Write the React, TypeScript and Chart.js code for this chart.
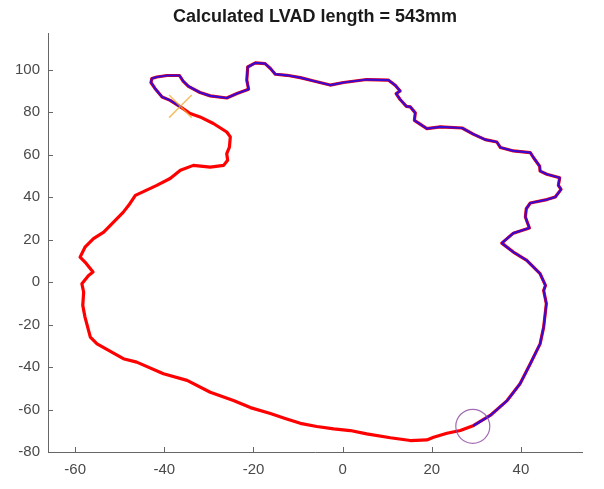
import { useEffect, useRef } from "react";
import { Chart, registerables } from "chart.js";

Chart.register(...registerables);

const titleText = "Calculated LVAD length = 543mm";
const xTickValues = [-60, -40, -20, 0, 20, 40];
const yTickValues = [-80, -60, -40, -20, 0, 20, 40, 60, 80, 100];

// LVAD path (blue), from start marker to end marker
const lvadX = [-36.4, -38.7, -40.5, -42.1, -43.0, -42.8, -41.7, -39.4, -36.6, -35.8, -34.6, -32.0, -29.7, -26.0, -23.7, -21.1, -21.5, -21.3, -19.6, -17.4, -16.2, -15.1, -12.5, -9.5, -6.5, -2.8, 0.2, 5.4, 10.3, 11.8, 12.9, 12.0, 12.9, 14.3, 15.2, 16.3, 16.1, 18.9, 21.9, 26.8, 29.4, 32.0, 34.6, 35.4, 38.3, 42.1, 42.8, 44.2, 44.3, 45.8, 48.7, 48.4, 49.0, 47.7, 45.8, 42.1, 41.2, 41.0, 41.9, 38.3, 35.7, 38.3, 41.3, 44.3, 45.5, 45.1, 45.7, 45.1, 44.3, 42.1, 39.8, 36.9, 33.1, 29.4];
const lvadY = [82.4, 85.5, 87.1, 91.1, 93.9, 95.8, 96.5, 97.2, 97.2, 94.6, 92.1, 89.2, 87.6, 86.6, 88.7, 90.7, 95.0, 101.2, 103.1, 102.8, 100.5, 97.8, 97.3, 96.2, 94.6, 92.7, 93.9, 95.3, 95.0, 92.6, 89.9, 88.7, 85.9, 82.7, 82.4, 79.6, 76.1, 72.2, 73.0, 72.5, 69.5, 67.0, 65.9, 63.3, 61.7, 60.9, 58.6, 54.5, 52.2, 50.7, 49.1, 45.5, 43.6, 40.0, 38.8, 37.2, 34.5, 30.6, 25.4, 23.0, 18.3, 14.1, 10.2, 3.9, -1.6, -4.0, -10.2, -21.2, -29.1, -38.5, -47.9, -55.8, -62.8, -67.5];

// Remaining wall contour (red only), closing the loop back to the start
const wallX = [26.4, 23.4, 20.4, 18.9, 15.2, 10.7, 5.4, 1.7, -2.0, -5.8, -9.5, -12.9, -16.2, -20.7, -24.5, -29.7, -34.9, -40.2, -46.2, -49.2, -55.1, -56.6, -57.8, -58.3, -58.1, -58.5, -57.0, -56.0, -57.8, -58.9, -57.8, -55.9, -53.6, -51.4, -49.2, -48.0, -46.5, -41.7, -38.7, -36.4, -33.5, -29.7, -26.7, -25.8, -26.0, -25.4, -25.2, -26.0, -29.0, -32.0, -34.2, -36.4];
const wallY = [-69.9, -71.2, -73.1, -74.3, -74.6, -73.3, -71.5, -69.9, -69.1, -68.0, -66.5, -64.2, -61.9, -59.1, -55.8, -51.9, -46.3, -43.2, -37.7, -36.1, -29.1, -25.9, -16.5, -11.0, -4.8, -0.8, 3.1, 4.7, 9.4, 11.7, 16.4, 20.4, 23.5, 28.2, 32.9, 36.1, 40.8, 45.5, 48.7, 52.6, 54.9, 54.1, 54.9, 57.3, 60.4, 63.5, 68.3, 70.6, 74.6, 77.7, 79.3, 82.4];

const startX = [-36.4];
const startY = [82.7];
const endX = [29.2];
const endY = [-67.9];

const toPts = (xs: number[], ys: number[]) => xs.map((x, i) => ({ x, y: ys[i] }));

const FONT = "'Liberation Sans', Arial, Helvetica, sans-serif";

const decorPlugin = {
  id: "decor",
  afterDraw(chart: any) {
    const ctx = chart.ctx;
    const area = chart.chartArea;
    const xs = chart.scales.x;
    const ys = chart.scales.y;
    ctx.save();
    ctx.strokeStyle = "#666666";
    ctx.lineWidth = 1;
    ctx.beginPath();
    xTickValues.forEach((v) => {
      const px = Math.round(xs.getPixelForValue(v)) + 0.5;
      ctx.moveTo(px, area.bottom);
      ctx.lineTo(px, area.bottom - 5);
    });
    yTickValues.forEach((v) => {
      const py = Math.round(ys.getPixelForValue(v)) + 0.5;
      ctx.moveTo(area.left, py);
      ctx.lineTo(area.left + 5, py);
    });
    ctx.stroke();
    ctx.fillStyle = "#1a1a1a";
    ctx.font = "bold 18px " + FONT;
    ctx.textAlign = "center";
    ctx.textBaseline = "middle";
    ctx.fillText(titleText, (area.left + area.right) / 2, 17);
    ctx.restore();
  },
};

export default function App() {
  const ref = useRef<HTMLCanvasElement | null>(null);
  useEffect(() => {
    if (!ref.current) return;
    const chart = new Chart(ref.current, {
      type: "scatter",
      data: {
        datasets: [
          {
            label: "start",
            data: toPts(startX, startY),
            pointStyle: "crossRot",
            pointRadius: 16,
            borderColor: "rgba(240,170,50,0.75)",
            borderWidth: 1.5,
            showLine: false,
            order: 0,
          },
          {
            label: "end",
            data: toPts(endX, endY),
            pointStyle: "circle",
            pointRadius: 17,
            borderColor: "rgba(140,70,160,0.8)",
            backgroundColor: "rgba(0,0,0,0)",
            borderWidth: 1.2,
            showLine: false,
            order: 1,
          },
          {
            label: "lvad",
            data: toPts(lvadX, lvadY),
            showLine: true,
            borderColor: "#3a0ad0",
            borderWidth: 2.2,
            pointRadius: 0,
            tension: 0,
            borderJoinStyle: "round",
            borderCapStyle: "round",
            order: 2,
          },
          {
            label: "wall",
            data: toPts(lvadX.concat(wallX), lvadY.concat(wallY)),
            showLine: true,
            borderColor: "#ff0000",
            borderWidth: 3.2,
            pointRadius: 0,
            tension: 0,
            borderJoinStyle: "round",
            borderCapStyle: "round",
            order: 3,
          },
        ],
      },
      options: {
        animation: false,
        responsive: false,
        maintainAspectRatio: false,
        layout: { padding: { top: 33, right: 22, left: 0, bottom: 0 } },
        plugins: {
          legend: { display: false },
          title: { display: false },
          tooltip: { enabled: false },
        },
        scales: {
          x: {
            type: "linear",
            min: -66.1,
            max: 53.7,
            afterBuildTicks: (s: any) => {
              s.ticks = xTickValues.map((v) => ({ value: v }));
            },
            afterFit: (s: any) => {
              s.height = 37;
            },
            grid: { display: false, drawTicks: false },
            border: { display: true, color: "#666666", width: 1 },
            ticks: {
              color: "#4a4a4a",
              font: { family: FONT, size: 15 },
              padding: 9,
              maxRotation: 0,
              autoSkip: false,
            },
          },
          y: {
            type: "linear",
            min: -80,
            max: 117.2,
            afterBuildTicks: (s: any) => {
              s.ticks = yTickValues.map((v) => ({ value: v }));
            },
            afterFit: (s: any) => {
              s.width = 48;
            },
            grid: { display: false, drawTicks: false },
            border: { display: true, color: "#666666", width: 1 },
            ticks: {
              color: "#4a4a4a",
              font: { family: FONT, size: 15 },
              padding: 8,
              autoSkip: false,
            },
          },
        },
      },
      plugins: [decorPlugin],
    });
    return () => chart.destroy();
  }, []);
  return (
    <canvas
      ref={ref}
      width={604}
      height={489}
      style={{ position: "fixed", left: 0, top: 0, width: 604, height: 489 }}
    />
  );
}
